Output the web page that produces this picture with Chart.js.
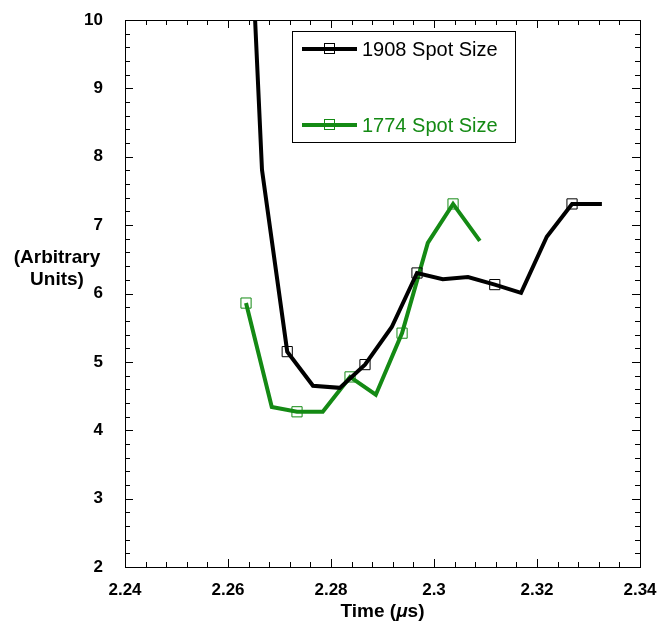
<!DOCTYPE html>
<html>
<head>
<meta charset="utf-8">
<script src="https://cdn.jsdelivr.net/npm/chart.js@4.4.1/dist/chart.umd.min.js"></script>
<style>
  body { margin: 0; background: #fff; }
</style>
</head>
<body>
<canvas id="spot" width="665" height="630"></canvas>
<script>
// 1908 spot size
const timeA = [2.2616, 2.2666, 2.2715, 2.2765, 2.2817, 2.2866, 2.2918, 2.2967, 2.3017, 2.3066, 2.3118, 2.3169, 2.3219, 2.3268, 2.3326]
const spotA = [16.0, 7.81, 5.15, 4.65, 4.62, 4.96, 5.51, 6.30, 6.21, 6.24, 6.13, 6.01, 6.83, 7.31, 7.31]
const markA = [0, 0, 1, 0, 0, 1, 0, 1, 0, 0, 1, 0, 0, 1, 0]
// 1774 spot size
const timeB = [2.2635, 2.2685, 2.2734, 2.2784, 2.2837, 2.2887, 2.2938, 2.2988, 2.3037, 2.3089]
const spotB = [5.86, 4.34, 4.27, 4.27, 4.78, 4.52, 5.42, 6.74, 7.31, 6.77]
const markB = [1, 0, 1, 0, 1, 0, 1, 0, 1, 0]

const xTicks = [2.24, 2.26, 2.28, 2.30, 2.32, 2.34]
const yTicks = [2, 3, 4, 5, 6, 7, 8, 9, 10]
const labelA = '1908 Spot Size'
const labelB = '1774 Spot Size'

const GREEN = '#148a14'
const FONT = '"Liberation Sans", Arial, Helvetica, sans-serif'

const toPts = (xs, ys) => xs.map((x, i) => ({x: x, y: ys[i]}))

// inward ticks on all four sides, the box, the axis titles and the legend
const frame = {
  id: 'frame',
  afterDatasetsDraw(chart) {
    const {ctx, chartArea: a, scales: {x, y}} = chart
    ctx.save()
    ctx.strokeStyle = '#000'
    ctx.lineWidth = 1
    ctx.strokeRect(a.left + 0.5, a.top + 0.5, a.right - a.left, a.bottom - a.top)

    ctx.beginPath()
    for (let v = 2240; v <= 2340; v += 4) {
      const px = Math.round(x.getPixelForValue(v / 1000)) + 0.5
      const len = (v % 20 === 0) ? 8 : 5
      ctx.moveTo(px, a.bottom); ctx.lineTo(px, a.bottom - len)
      ctx.moveTo(px, a.top); ctx.lineTo(px, a.top + len)
    }
    for (let v = 20; v <= 100; v += 2) {
      const py = Math.round(y.getPixelForValue(v / 10)) + 0.5
      const len = (v % 10 === 0) ? 8 : 5
      ctx.moveTo(a.left, py); ctx.lineTo(a.left + len, py)
      ctx.moveTo(a.right, py); ctx.lineTo(a.right - len, py)
    }
    ctx.stroke()

    ctx.fillStyle = '#000'
    ctx.textBaseline = 'middle'

    // x title with italic mu
    const parts = [['Time (', 'bold'], ['\u03bc', 'italic bold'], ['s)', 'bold']]
    let w = 0
    parts.forEach(p => { ctx.font = p[1] + ' 19px ' + FONT; w += ctx.measureText(p[0]).width })
    let tx = (a.left + a.right) / 2 - w / 2
    ctx.textAlign = 'left'
    parts.forEach(p => {
      ctx.font = p[1] + ' 19px ' + FONT
      ctx.fillText(p[0], tx, 612)
      tx += ctx.measureText(p[0]).width
    })

    // y title, horizontal like the original
    ctx.font = 'bold 19px ' + FONT
    ctx.textAlign = 'center'
    ctx.fillText('(Arbitrary', 57, 258)
    ctx.fillText('Units)', 57, 280)

    // legend box
    const bx = 292, by = 31, bw = 223, bh = 111
    ctx.fillStyle = '#fff'
    ctx.fillRect(bx, by, bw, bh)
    ctx.strokeRect(bx + 0.5, by + 0.5, bw, bh)
    const rows = [[chart.data.datasets[0], 49], [chart.data.datasets[1], 125]]
    rows.forEach(([ds, ry]) => {
      ctx.strokeStyle = ds.borderColor
      ctx.lineWidth = 4
      ctx.beginPath(); ctx.moveTo(302, ry); ctx.lineTo(357, ry); ctx.stroke()
      ctx.lineWidth = 1
      ctx.strokeRect(324.5, ry - 5.5, 10, 10)
      ctx.fillStyle = ds.borderColor
      ctx.font = '20px ' + FONT
      ctx.textAlign = 'left'
      ctx.fillText(ds.label, 362, ry + 1)
    })
    ctx.restore()
  }
}

new Chart(document.getElementById('spot').getContext('2d'), {
  type: 'line',
  data: {
    datasets: [{
      label: labelA,
      data: toPts(timeA, spotA),
      borderColor: '#000',
      borderWidth: 4,
      pointStyle: 'rect',
      pointRadius: markA.map(m => m ? 7.2 : 0),
      pointBorderWidth: 1,
      pointBorderColor: '#000',
      pointBackgroundColor: 'rgba(0,0,0,0)',
      tension: 0
    }, {
      label: labelB,
      data: toPts(timeB, spotB),
      borderColor: GREEN,
      borderWidth: 4,
      pointStyle: 'rect',
      pointRadius: markB.map(m => m ? 7.2 : 0),
      pointBorderWidth: 1,
      pointBorderColor: GREEN,
      pointBackgroundColor: 'rgba(0,0,0,0)',
      tension: 0
    }]
  },
  options: {
    responsive: false,
    animation: false,
    layout: { padding: { top: 20, right: 25, left: 0, bottom: 0 } },
    plugins: {
      legend: { display: false },
      tooltip: { enabled: false }
    },
    scales: {
      x: {
        type: 'linear',
        min: 2.24,
        max: 2.34,
        afterBuildTicks: s => { s.ticks = xTicks.map(v => ({value: v})) },
        afterFit: s => { s.height = 63; s.paddingLeft = 0; s.paddingRight = 0 },
        grid: { display: false },
        border: { display: false },
        ticks: {
          color: '#000',
          padding: 5,
          maxRotation: 0,
          font: { family: FONT, size: 17, weight: 'bold' },
          callback: v => String(parseFloat(v.toFixed(2)))
        }
      },
      y: {
        type: 'linear',
        min: 2,
        max: 10,
        afterBuildTicks: s => { s.ticks = yTicks.map(v => ({value: v})) },
        afterFit: s => { s.width = 125; s.paddingTop = 0; s.paddingBottom = 0 },
        grid: { display: false },
        border: { display: false },
        ticks: {
          color: '#000',
          padding: 14,
          font: { family: FONT, size: 17, weight: 'bold' }
        }
      }
    }
  },
  plugins: [frame]
});
</script>
</body>
</html>
